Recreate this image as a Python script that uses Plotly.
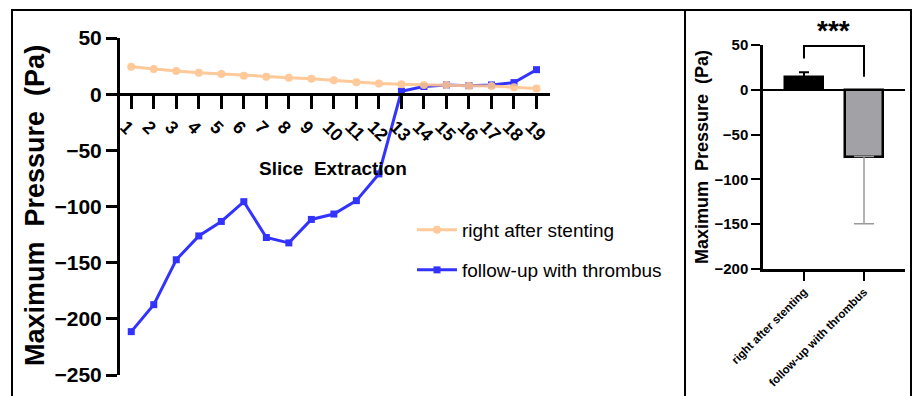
import plotly.graph_objects as go

# page has an 8px body margin; figure fills the rest of the 921x396 window
OFF = 8
W, H = 921 - OFF, 396 - OFF


def px(x):
    return (x - OFF) / W


def py(y):
    return 1 - (y - OFF) / H


# ---------------- data ----------------
slices = list(range(1, 20))
slice_labels = [str(i) for i in slices]
after_stenting = [24.4, 22.4, 20.6, 19.1, 17.9, 16.5, 15.6, 14.7, 13.8, 12.4,
                  10.6, 9.4, 8.8, 8.2, 8.2, 7.6, 7.3, 6.2, 5.0]
follow_up = [-211.4, -187.4, -147.4, -126.2, -113.3, -95.7, -127.6, -132.4,
             -111.5, -106.7, -94.8, -71.0, 2.6, 6.8, 8.2, 7.6, 8.2, 10.3, 21.8]
series_names = ["right after stenting", "follow-up with thrombus"]

bar_groups = ["right after stenting", "follow-up with thrombus"]
bar_means = [14.4, -74.5]
bar_err_plus = [5.3, 0.0]
bar_err_minus = [0.0, 75.0]
left_yticks = [-250, -200, -150, -100, -50, 0, 50]
right_yticks = [-200, -150, -100, -50, 0, 50]
sig_text = "***"

FONT = "Liberation Sans, Arial, sans-serif"
ORANGE = "#FFC48F"
BLUE = "#3333FF"

fig = go.Figure()

fig.add_trace(go.Scatter(
    x=slices, y=follow_up, name=series_names[1], mode="lines+markers",
    line=dict(color=BLUE, width=3), marker=dict(symbol="square", size=7, color=BLUE),
    legend="legend2", xaxis="x", yaxis="y"))
fig.add_trace(go.Scatter(
    x=slices, y=after_stenting, name=series_names[0], mode="lines+markers",
    line=dict(color=ORANGE, width=3), marker=dict(symbol="circle", size=8, color=ORANGE),
    opacity=0.9, legend="legend", xaxis="x", yaxis="y"))

bar_fill = ["#000000", "#A2A2A6"]
err_col = ["#000000", "#9A9A9A"]
err_w = [5, 10]
err_th = [2, 1.5]
for i in range(2):
    fig.add_trace(go.Bar(
        x=[bar_groups[i]], y=[bar_means[i]], width=0.64, showlegend=False,
        marker=dict(color=bar_fill[i], line=dict(color="black", width=2.5)),
        error_y=dict(type="data", symmetric=False, array=[bar_err_plus[i]],
                     arrayminus=[bar_err_minus[i]], color=err_col[i],
                     thickness=err_th[i], width=err_w[i]),
        xaxis="x2", yaxis="y2"))

# ---------------- axes ----------------
ydom = [py(375), py(38)]
yr = [-250, 50]
zero_pos = ydom[0] + (0 - yr[0]) / (yr[1] - yr[0]) * (ydom[1] - ydom[0])

axcommon = dict(showgrid=False, zeroline=False, showline=True, linecolor="black",
                ticks="outside", tickcolor="black", automargin=False)

legfont = dict(size=19, family=FONT)
fig.update_layout(
    width=W, height=H, margin=dict(l=0, r=0, t=0, b=0, autoexpand=False),
    paper_bgcolor="white", plot_bgcolor="white",
    font=dict(family=FONT, color="black"),
    bargap=0,
    xaxis=dict(domain=[px(120), px(550)], range=[0.5, 19.6], anchor="free",
               position=zero_pos, tickvals=slices, ticktext=slice_labels,
               tickangle=45, ticklen=13, tickwidth=3, linewidth=3,
               tickfont=dict(size=18, family=FONT, weight="bold"),
               ticklabelshift=-6, **axcommon),
    yaxis=dict(domain=ydom, range=yr, anchor="x", tickvals=left_yticks,
               ticklen=11, tickwidth=3, linewidth=3,
               tickfont=dict(size=21, family=FONT, weight="bold"), **axcommon),
    xaxis2=dict(domain=[px(763), px(905)], anchor="y2", type="category",
                range=[-0.683, 1.683], tickangle=-45, ticklen=9, tickwidth=2,
                linewidth=2.5, tickfont=dict(size=11.5, family=FONT, weight="bold"),
                **axcommon),
    yaxis2=dict(domain=[py(269), py(45)], anchor="x2", range=[-200, 50],
                tickvals=right_yticks, ticklen=9, tickwidth=2, linewidth=2.5,
                tickfont=dict(size=15, family=FONT, weight="bold"),
                showgrid=False, showline=True, linecolor="black", ticks="outside",
                tickcolor="black", zeroline=True, zerolinecolor="black",
                zerolinewidth=2, automargin=False),
    legend=dict(x=px(412), y=py(230), xanchor="left", yanchor="middle",
                font=legfont, bgcolor="rgba(0,0,0,0)", itemwidth=40),
    legend2=dict(x=px(412), y=py(270), xanchor="left", yanchor="middle",
                 font=legfont, bgcolor="rgba(0,0,0,0)", itemwidth=40),
    showlegend=True,
)

nb = "\u00a0"
fig.add_annotation(text=f"Maximum{nb}{nb}Pressure{nb}{nb}(Pa)", xref="paper", yref="paper",
                   x=px(35), y=py(206), textangle=-90, showarrow=False,
                   font=dict(size=27, family=FONT, weight="bold"),
                   xanchor="center", yanchor="middle")
fig.add_annotation(text=f"Slice{nb}{nb}Extraction", xref="paper", yref="paper",
                   x=px(333), y=py(168), showarrow=False,
                   font=dict(size=19, family=FONT, weight="bold"),
                   xanchor="center", yanchor="middle")
fig.add_annotation(text=f"Maximum{nb}{nb}Pressure{nb}{nb}(Pa)", xref="paper", yref="paper",
                   x=px(702), y=py(157), textangle=-90, showarrow=False,
                   font=dict(size=18, family=FONT, weight="bold"),
                   xanchor="center", yanchor="middle")
fig.add_annotation(text=sig_text, xref="paper", yref="paper",
                   x=px(833), y=py(30), showarrow=False,
                   font=dict(size=28, family=FONT, weight="bold"),
                   xanchor="center", yanchor="middle")

# significance bracket (between the two bars)
b_top, b_left, b_right = 49, 35, 14.5
fig.add_shape(type="path", xref="x2", yref="y2",
              path=f"M 0 {b_left} L 0 {b_top} L 1 {b_top} L 1 {b_right}",
              line=dict(color="black", width=2))

# panel frames
fig.add_shape(type="rect", xref="paper", yref="paper",
              x0=px(12), x1=px(685), y0=-0.05, y1=py(10),
              line=dict(color="black", width=2))
fig.add_shape(type="rect", xref="paper", yref="paper",
              x0=px(685), x1=px(911), y0=-0.05, y1=py(10),
              line=dict(color="black", width=2))

fig.write_html("out.html")
